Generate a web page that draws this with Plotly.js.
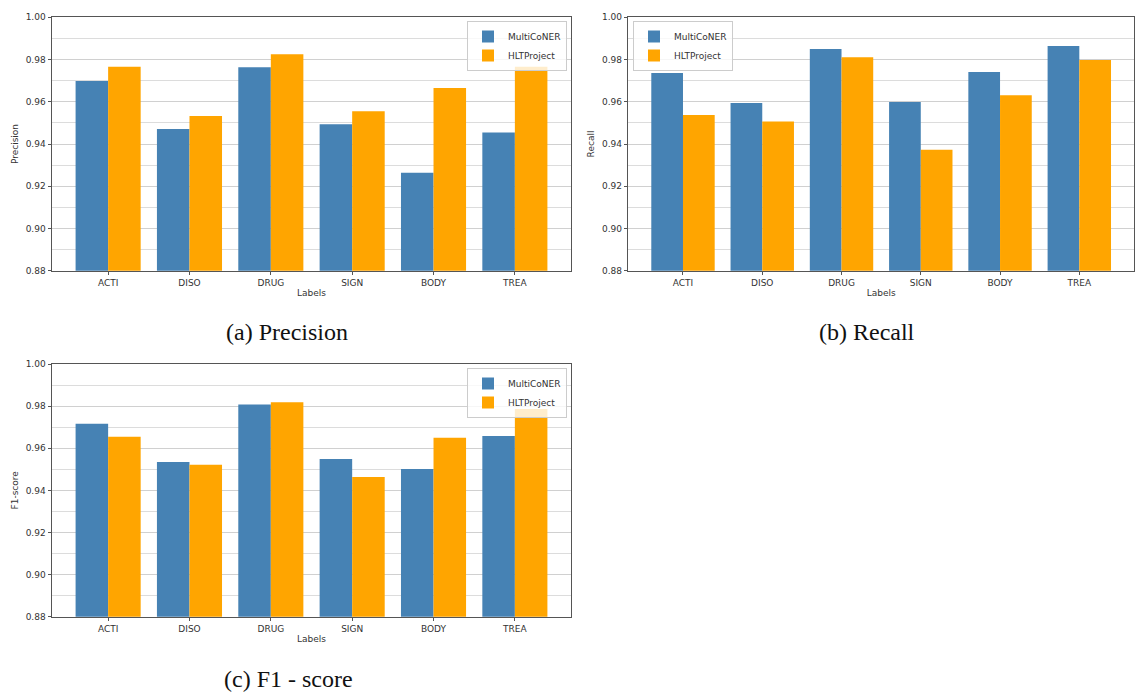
<!DOCTYPE html>
<html>
<head>
<meta charset="utf-8">
<script src="https://cdn.plot.ly/plotly-3.0.1.min.js"></script>
<style>html,body{margin:0;padding:0;background:#fff;}#chart{width:1135px;height:693px;}</style>
</head>
<body>
<div id="chart"></div>
<script>
const categories = ['ACTI', 'DISO', 'DRUG', 'SIGN', 'BODY', 'TREA'];
const seriesNames = ['MultiCoNER', 'HLTProject'];
const precisionMulti = [0.9698, 0.9471, 0.9763, 0.9493, 0.9264, 0.9454];
const precisionHLT   = [0.9766, 0.9533, 0.9825, 0.9555, 0.9665, 0.9766];
const recallMulti    = [0.9736, 0.9594, 0.9850, 0.9599, 0.9741, 0.9864];
const recallHLT      = [0.9537, 0.9506, 0.9811, 0.9373, 0.9631, 0.9798];
const f1Multi        = [0.9716, 0.9535, 0.9808, 0.9549, 0.9501, 0.9658];
const f1HLT          = [0.9655, 0.9522, 0.9818, 0.9463, 0.9650, 0.9786];
const yTitles = ['Precision', 'Recall', 'F1-score'];
const xTitle = 'Labels';
const captions = ['(a) Precision', '(b) Recall', '(c) F1 - score'];

const colors = ['#4682B4', '#FFA500'];
const W = 1135, H = 693;
const px = v => v / W;
const py = v => 1 - v / H;

const panels = [
  {multi: precisionMulti, hlt: precisionHLT, x: [52, 571], y: [17.3, 270.7], legend: 'legend', xa: 'x', ya: 'y'},
  {multi: recallMulti, hlt: recallHLT, x: [628.3, 1134], y: [17.3, 270.7], legend: 'legend2', xa: 'x2', ya: 'y2'},
  {multi: f1Multi, hlt: f1HLT, x: [52, 571], y: [364, 616.7], legend: 'legend3', xa: 'x3', ya: 'y3'}
];

const traces = [];
panels.forEach((p, i) => {
  [p.multi, p.hlt].forEach((vals, j) => {
    traces.push({
      type: 'bar', x: categories, y: vals, name: seriesNames[j],
      marker: {color: colors[j], line: {width: 0}},
      xaxis: p.xa, yaxis: p.ya, legend: p.legend, showlegend: true,
      hoverinfo: 'x+y'
    });
  });
});

const tickFont = {family: 'DejaVu Sans', size: 9, color: '#333'};
const layout = {
  width: W, height: H,
  margin: {l: 0, r: 0, t: 0, b: 0},
  paper_bgcolor: '#fff', plot_bgcolor: '#fff',
  barmode: 'group', bargap: 0.2, bargroupgap: 0,
  font: {family: 'DejaVu Sans', size: 9, color: '#333'},
  annotations: [],
  showlegend: true
};

const legendPos = [
  {x: px(567), y: py(21), xanchor: 'right'},
  {x: px(633), y: py(21), xanchor: 'left'},
  {x: px(567), y: py(368), xanchor: 'right'}
];

panels.forEach((p, i) => {
  const sfx = i === 0 ? '' : String(i + 1);
  layout['xaxis' + sfx] = {
    domain: [px(p.x[0]), px(p.x[1])],
    anchor: 'y' + sfx,
    type: 'category',
    range: [-0.69, 5.69],
    showgrid: false, zeroline: false,
    showline: true, mirror: true, linecolor: '#555', linewidth: 1,
    ticks: 'outside', ticklen: 3.5, tickcolor: '#555', tickwidth: 1,
    tickfont: tickFont,
    title: {text: xTitle, font: {family: 'DejaVu Sans', size: 9, color: '#333'}, standoff: 2}
  };
  layout['yaxis' + sfx] = {
    domain: [py(p.y[1]), py(p.y[0])],
    anchor: 'x' + sfx,
    range: [0.88, 1.0],
    dtick: 0.02, tick0: 0.88, tickformat: '.2f',
    showgrid: true, gridcolor: '#d0d0d0', gridwidth: 1,
    minor: {dtick: 0.01, tick0: 0.88, showgrid: true, gridcolor: '#dcdcdc', gridwidth: 1, ticks: ''},
    zeroline: false,
    showline: true, mirror: true, linecolor: '#555', linewidth: 1,
    ticks: 'outside', ticklen: 3.5, tickcolor: '#555', tickwidth: 1,
    tickfont: tickFont,
    title: {text: yTitles[i], font: {family: 'DejaVu Sans', size: 9, color: '#333'}, standoff: 5}
  };
  layout[p.legend] = {
    x: legendPos[i].x, y: legendPos[i].y,
    xanchor: legendPos[i].xanchor, yanchor: 'top',
    xref: 'paper', yref: 'paper',
    bgcolor: 'rgba(255,255,255,0.8)', bordercolor: '#cccccc', borderwidth: 1,
    font: {family: 'DejaVu Sans', size: 9, color: '#333'},
    itemwidth: 30, tracegroupgap: 0, traceorder: 'normal'
  };
});

const capPos = [[287, 332], [867, 332], [288, 679]];
captions.forEach((c, i) => {
  layout.annotations.push({
    text: c, xref: 'paper', yref: 'paper',
    x: px(capPos[i][0]), y: py(capPos[i][1]),
    xanchor: 'center', yanchor: 'middle', showarrow: false,
    font: {family: 'Liberation Serif', size: 24, color: '#111'}
  });
});

Plotly.newPlot('chart', traces, layout, {staticPlot: true, displayModeBar: false});
</script>
</body>
</html>
